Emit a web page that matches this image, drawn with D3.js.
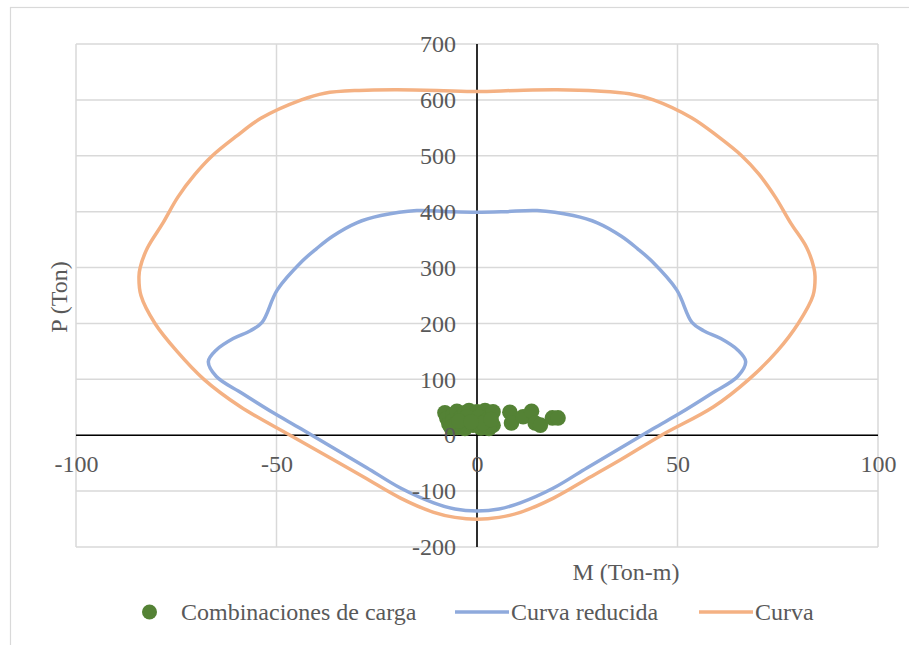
<!DOCTYPE html>
<html>
<head>
<meta charset="utf-8">
<script src="https://cdn.jsdelivr.net/npm/d3@7"></script>
<style>
  html, body { margin: 0; padding: 0; background: #ffffff; }
  svg { display: block; }
  text { font-family: "Liberation Serif", "Times New Roman", serif; fill: #595959; }
</style>
</head>
<body>
<svg id="chart" width="909" height="645"></svg>
<script>
// Load combinations (M in Ton-m, P in Ton)
const combM = [-8, -7.5, -7, -6, -6, -5, -5, -4, -4, -3, -3, -2, -2, -1, -1, 0, 0, 1, 1, 2, 2, 3, 3, 4, 4, -5, 3,
               -6.5, -2.5, 0.5, 2.5, -4.5, 1.5, -1.5, 3.5,
               8.2, 8.6, 11.5, 13.6, 14.5, 15.8, 18.8, 20.2];
const combP = [40, 30, 20, 36, 26, 43, 14, 32, 20, 40, 12, 27, 44, 18, 35, 25, 42, 13, 38, 30, 44, 21, 35, 42, 18, 22, 12,
               14, 33, 33, 27, 25, 22, 24, 28,
               41, 22, 33, 43, 22, 18, 31, 31];

// Reduced interaction curve, clockwise from the top (closed loop)
const reducidaM = [0, 7, 15, 24, 30, 36, 40, 43.5, 49.8, 53.6, 56.5, 60.8, 65, 67, 65, 58.6, 50.8, 44, 35.8, 27.5, 19.2, 10.8, 5.5,
                   0, -5.5, -10.8, -19.2, -27.5, -35.8, -44, -50.8, -58.6, -65, -67, -65, -60.8, -56.5, -53.6, -49.8, -43.5, -40, -36, -30, -24, -15, -7];
const reducidaP = [399, 400, 402, 393, 380, 356, 334, 312, 260, 202, 187, 173, 152.6, 131.7, 105, 75, 40, 12, -23, -58, -94, -121, -132,
                   -135.4, -132, -121, -94, -58, -23, 12, 40, 75, 105, 131.7, 152.6, 173, 187, 202, 260, 312, 334, 356, 380, 393, 402, 400];

// Nominal interaction curve, clockwise from the top (closed loop)
const curvaM = [0, 10, 20, 30, 38, 44, 53.5, 60, 66, 70.3, 74.4, 78.2, 82.2, 84, 84.3, 83.8, 80.1, 74.8, 67.8, 59, 46, 35.8, 27.5, 19.2, 10.8, 5.5,
                0, -5.5, -10.8, -19.2, -27.5, -35.8, -46.6, -59, -68.1, -74.8, -80.3, -83.8, -84.3, -84, -82.2, -78.3, -74.6, -70.3, -66, -60, -53.9, -43.8, -38, -29.4, -20, -10];
const curvaP = [615, 617, 618, 616, 611, 600, 568, 535, 500, 467, 426, 380, 336, 300, 284, 250, 200, 150, 100, 51, 0, -44, -78, -112, -138, -147,
                -150.3, -147, -138, -112, -78, -44, 0, 51, 100, 150, 200, 250, 284, 300, 335, 380, 426, 467, 500, 535, 567, 600, 612, 617, 618, 617];

const xTicks = [-100, -50, 0, 50, 100];
const yTicks = [-200, -100, 0, 100, 200, 300, 400, 500, 600, 700];

const legendLabels = ["Combinaciones de carga", "Curva reducida", "Curva"];
const colors = { comb: "#548235", reducida: "#8faadc", curva: "#f4b183" };

const svg = d3.select("#chart");
const W = 909, H = 645;
const plot = { left: 76, right: 878, top: 44, bottom: 547 };
const FONT = "'Liberation Serif', 'Times New Roman', serif";

const x = d3.scaleLinear().domain([-100, 100]).range([plot.left, plot.right]);
const y = d3.scaleLinear().domain([-200, 700]).range([plot.bottom, plot.top]);

// Chart area frame
svg.append("rect")
  .attr("x", 10.5).attr("y", 7.5)
  .attr("width", W + 20).attr("height", H + 20)
  .attr("fill", "#ffffff").attr("stroke", "#d9d9d9").attr("stroke-width", 1.2);

// Gridlines
const grid = svg.append("g");
grid.selectAll(".hg").data(yTicks).join("line")
  .attr("x1", plot.left).attr("x2", plot.right)
  .attr("y1", d => y(d)).attr("y2", d => y(d))
  .attr("stroke", "#d9d9d9").attr("stroke-width", 1.5);
grid.selectAll(".vg").data(xTicks).join("line")
  .attr("y1", plot.top).attr("y2", plot.bottom)
  .attr("x1", d => x(d)).attr("x2", d => x(d))
  .attr("stroke", "#d9d9d9").attr("stroke-width", 1.5);

// Axis lines crossing at the origin
svg.append("line")
  .attr("x1", plot.left).attr("x2", plot.right)
  .attr("y1", y(0)).attr("y2", y(0))
  .attr("stroke", "#000000").attr("stroke-width", 1.6);
svg.append("line")
  .attr("x1", x(0)).attr("x2", x(0))
  .attr("y1", plot.top).attr("y2", plot.bottom)
  .attr("stroke", "#000000").attr("stroke-width", 1.6);

// Series
const line = d3.line()
  .x(d => x(d[0])).y(d => y(d[1]))
  .curve(d3.curveCatmullRomClosed.alpha(0.5));

const comb = combM.map((m, i) => [m, combP[i]]);
const reducida = reducidaM.map((m, i) => [m, reducidaP[i]]);
const curva = curvaM.map((m, i) => [m, curvaP[i]]);

svg.append("g").selectAll("circle").data(comb).join("circle")
  .attr("cx", d => x(d[0])).attr("cy", d => y(d[1]))
  .attr("r", 7.8).attr("fill", colors.comb);

svg.append("path").datum(reducida)
  .attr("d", line).attr("fill", "none")
  .attr("stroke", colors.reducida).attr("stroke-width", 3.5)
  .attr("stroke-linejoin", "round");

svg.append("path").datum(curva)
  .attr("d", line).attr("fill", "none")
  .attr("stroke", colors.curva).attr("stroke-width", 3.5)
  .attr("stroke-linejoin", "round");

// Tick labels
const fmt = d => String(d);
const yAxis = d3.axisLeft(y).tickValues(yTicks).tickSize(0).tickPadding(21).tickFormat(fmt);
const gy = svg.append("g").attr("transform", `translate(${x(0)},0)`).call(yAxis)
  .attr("font-family", FONT).attr("font-size", 24);
gy.select(".domain").remove();
gy.selectAll("text").attr("fill", "#595959");

const xAxis = d3.axisBottom(x).tickValues(xTicks).tickSize(0).tickPadding(20).tickFormat(fmt);
const gx = svg.append("g").attr("transform", `translate(0,${y(0)})`).call(xAxis)
  .attr("font-family", FONT).attr("font-size", 24);
gx.select(".domain").remove();
gx.selectAll("text").attr("fill", "#595959");

// Axis titles
svg.append("text")
  .attr("transform", "translate(67,297) rotate(-90)")
  .attr("text-anchor", "middle").attr("font-size", 24)
  .text("P (Ton)");
svg.append("text")
  .attr("x", 626).attr("y", 580)
  .attr("text-anchor", "middle").attr("font-size", 24)
  .text("M (Ton-m)");

// Legend
const lg = svg.append("g");
const ly = 612;
lg.append("circle").attr("cx", 149.5).attr("cy", ly).attr("r", 7.5).attr("fill", colors.comb);
lg.append("text").attr("x", 181).attr("y", ly + 8).attr("font-size", 24).text(legendLabels[0]);
lg.append("line").attr("x1", 455).attr("x2", 509).attr("y1", ly).attr("y2", ly)
  .attr("stroke", colors.reducida).attr("stroke-width", 3.5);
lg.append("text").attr("x", 511).attr("y", ly + 8).attr("font-size", 24).text(legendLabels[1]);
lg.append("line").attr("x1", 699).attr("x2", 753).attr("y1", ly).attr("y2", ly)
  .attr("stroke", colors.curva).attr("stroke-width", 3.5);
lg.append("text").attr("x", 755).attr("y", ly + 8).attr("font-size", 24).text(legendLabels[2]);
</script>
</body>
</html>
